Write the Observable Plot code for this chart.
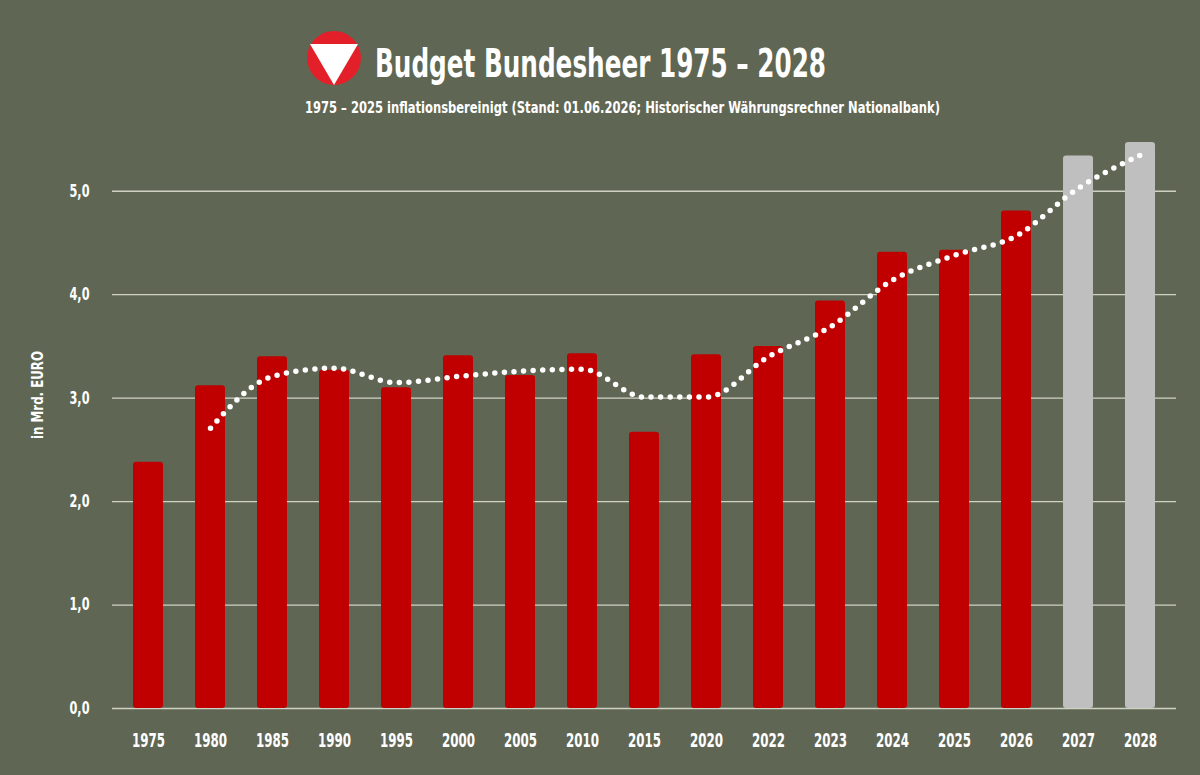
<!DOCTYPE html>
<html>
<head>
<meta charset="utf-8">
<script src="https://cdn.jsdelivr.net/npm/d3@7"></script>
<script src="https://cdn.jsdelivr.net/npm/@observablehq/plot@0.6"></script>
<style>
  html, body { margin: 0; padding: 0; background: #5f6754; }
  #wrap { position: relative; width: 1200px; height: 775px; overflow: hidden; background: #5f6754; }
  #header { position: absolute; left: 0; top: 0; }
  #chart { position: absolute; left: 0; top: 130px; }
  .cond { font-family: "Liberation Sans Narrow", "DejaVu Sans Condensed", "Roboto", sans-serif; font-weight: bold; }
</style>
</head>
<body>
<div id="wrap">
  <svg id="header" width="1200" height="130" class="cond">
    <circle cx="334" cy="58" r="27" fill="#e3202a"></circle>
    <polygon points="310,44 358,44 334,85" fill="#ffffff"></polygon>
    <text x="375" y="77" font-size="39" fill="#ffffff" textLength="451" lengthAdjust="spacingAndGlyphs">Budget Bundesheer 1975 – 2028</text>
    <text x="305" y="113" font-size="15.5" fill="#ffffff" textLength="635" lengthAdjust="spacingAndGlyphs">1975 – 2025 inflationsbereinigt (Stand: 01.06.2026; Historischer Währungsrechner Nationalbank)</text>
  </svg>
  <div id="chart"></div>
</div>
<script>
// ---- data ----
const years = ["1975","1980","1985","1990","1995","2000","2005","2010","2015","2020","2022","2023","2024","2025","2026","2027","2028"];
const budget = [2.38, 3.12, 3.40, 3.27, 3.10, 3.41, 3.22, 3.43, 2.67, 3.42, 3.50, 3.94, 4.41, 4.43, 4.81, 5.34, 5.47];
const projectedYears = ["2027", "2028"];
const trendYears = ["1980","1985","1990","1995","2000","2005","2010","2015","2020","2022","2023","2024","2025","2026","2027","2028"];
const trendValues = [2.71, 3.21, 3.29, 3.15, 3.21, 3.26, 3.28, 3.01, 3.01, 3.40, 3.69, 4.14, 4.38, 4.57, 5.03, 5.35];
const yTicks = [0, 1, 2, 3, 4, 5];
const yLabel = "in Mrd. EURO";

const bars = years.map((year, i) => ({year, value: budget[i], projected: projectedYears.includes(year)}));
const trend = trendYears.map((year, i) => ({year, value: trendValues[i]}));

const font = '"Liberation Sans Narrow", "DejaVu Sans Condensed", "Roboto", sans-serif';

const chart = Plot.plot({
  width: 1200,
  height: 645,
  marginTop: 9,
  marginBottom: 67,
  marginLeft: 112,
  marginRight: 24,
  style: {background: "transparent", color: "#ffffff", fontFamily: font, fontWeight: "bold", overflow: "visible"},
  x: {domain: years, paddingInner: 0.52, paddingOuter: 0.26, label: null},
  y: {domain: [0, 5.5], label: null},
  marks: [
    Plot.gridY(yTicks, {stroke: "#cfd1c3", strokeOpacity: 1, strokeWidth: 1.3}),
    Plot.axisY(yTicks, {tickSize: 0, tickPadding: 23, fontSize: 17, fill: "#ffffff", tickFormat: d => d.toFixed(1).replace(".", ","), label: null}),
    Plot.axisX({tickSize: 0, tickPadding: 24, fontSize: 20, fill: "#ffffff", label: null}),
    Plot.barY(bars, {x: "year", y: "value", fill: d => d.projected ? "#bfbfbf" : "#c00000", rx: 3}),
    Plot.lineY(trend, {x: "year", y: "value", stroke: "#ffffff", strokeWidth: 5.5, strokeDasharray: "0 9.6", strokeLinecap: "round", curve: "monotone-x"}),
    Plot.text([yLabel], {text: d => d, frameAnchor: "left", dx: -75, dy: 15, rotate: -90, fontSize: 16, fill: "#ffffff", fontWeight: "bold"})
  ]
});
document.getElementById("chart").appendChild(chart);

// condense the tick label glyphs to the narrow look of the original
d3.select(chart).selectAll('g[aria-label="x-axis tick label"] text')
  .attr("textLength", 33).attr("lengthAdjust", "spacingAndGlyphs");
d3.select(chart).selectAll('g[aria-label="y-axis tick label"] text')
  .attr("textLength", 20).attr("lengthAdjust", "spacingAndGlyphs");
d3.select(chart).selectAll('g[aria-label="text"] text')
  .attr("textLength", 88).attr("lengthAdjust", "spacingAndGlyphs");
</script>
</body>
</html>
